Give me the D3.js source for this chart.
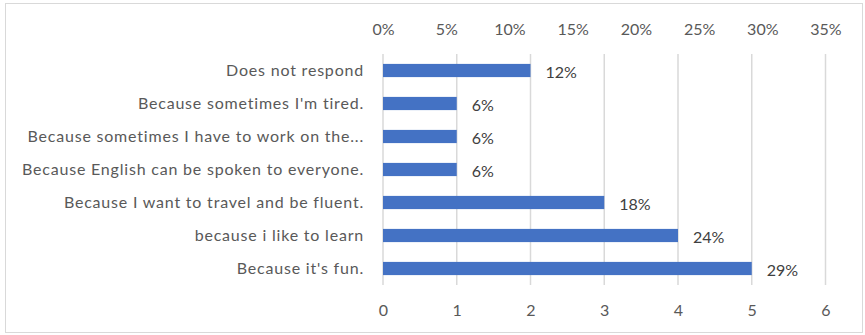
<!DOCTYPE html>
<html lang="en">
<head>
    <meta charset="UTF-8">
    <title>Reasons chart</title>
    <script src="https://cdn.jsdelivr.net/npm/d3@7"></script>
    <style>
        body { margin: 0; background: #fff; }
        svg text { font-family: Lato, "Open Sans", sans-serif; }
        .bar { fill: #4472c4; }
        .grid line { stroke: #d9d9d9; stroke-width: 1.5px; }
        .axis text { fill: #595959; font-size: 16px; }
        .cat { fill: #595959; font-size: 16px; letter-spacing: 0.8px; }
        .val { fill: #404040; font-size: 16px; }
    </style>
</head>
<body>
<div class="chart"></div>
<script>
    "use strict";

    var categories = [
        'Does not respond',
        "Because sometimes I'm tired.",
        'Because sometimes I have to work on the...',
        'Because English can be spoken to everyone.',
        'Because I want to travel and be fluent.',
        'because i like to learn',
        "Because it's fun."
    ];
    var counts = [2, 1, 1, 1, 3, 4, 5];
    var pctLabels = ['12%', '6%', '6%', '6%', '18%', '24%', '29%'];
    var countTicks = [0, 1, 2, 3, 4, 5, 6];
    var pctTicks = [0, 0.05, 0.10, 0.15, 0.20, 0.25, 0.30, 0.35];

    (function() {
        var W = 865, H = 335;
        var plotLeft = 383, plotRight = 825.5, plotTop = 54, plotBottom = 285;

        var svg = d3.select('.chart').append('svg')
            .attr('width', W)
            .attr('height', H);

        svg.append('rect')
            .attr('x', 5.5).attr('y', 3.5)
            .attr('width', 857).attr('height', 329)
            .attr('fill', '#fff')
            .attr('stroke', '#d9d9d9');

        var x = d3.scaleLinear().domain([0, 6]).range([plotLeft, plotRight]);
        var xPct = d3.scaleLinear().domain([0, 0.35]).range([plotLeft, plotRight]);
        var y = d3.scaleBand().domain(categories).range([plotTop, plotBottom]).paddingInner(0.6).paddingOuter(0.3);

        // gridlines
        svg.append('g').attr('class', 'grid')
            .selectAll('line').data(countTicks).enter().append('line')
            .attr('x1', function(d) { return x(d); })
            .attr('x2', function(d) { return x(d); })
            .attr('y1', plotTop)
            .attr('y2', plotBottom);

        // top percent axis
        var topAxis = svg.append('g').attr('class', 'axis')
            .attr('transform', 'translate(0,' + 35 + ')')
            .call(d3.axisTop(xPct).tickValues(pctTicks).tickFormat(d3.format('.0%')).tickSize(0).tickPadding(0));
        topAxis.select('.domain').remove();

        // bottom count axis
        var bottomAxis = svg.append('g').attr('class', 'axis')
            .attr('transform', 'translate(0,' + 302 + ')')
            .call(d3.axisBottom(x).tickValues(countTicks).tickFormat(d3.format('d')).tickSize(0).tickPadding(3));
        bottomAxis.select('.domain').remove();

        svg.selectAll('rect.bar').data(counts).enter().append('rect')
            .attr('class', 'bar')
            .attr('x', x(0))
            .attr('y', function(d, i) { return y(categories[i]); })
            .attr('width', function(d) { return x(d) - x(0); })
            .attr('height', y.bandwidth());

        svg.selectAll('text.cat').data(categories).enter().append('text')
            .attr('class', 'cat')
            .attr('x', 364)
            .attr('y', function(d) { return y(d) + y.bandwidth() / 2; })
            .attr('dy', '0.35em')
            .attr('text-anchor', 'end')
            .text(function(d) { return d; });

        svg.selectAll('text.val').data(counts).enter().append('text')
            .attr('class', 'val')
            .attr('x', function(d) { return x(d) + 15; })
            .attr('y', function(d, i) { return y(categories[i]) + y.bandwidth() / 2 + 2; })
            .attr('dy', '0.35em')
            .text(function(d, i) { return pctLabels[i]; });
    })();
</script>
</body>
</html>
